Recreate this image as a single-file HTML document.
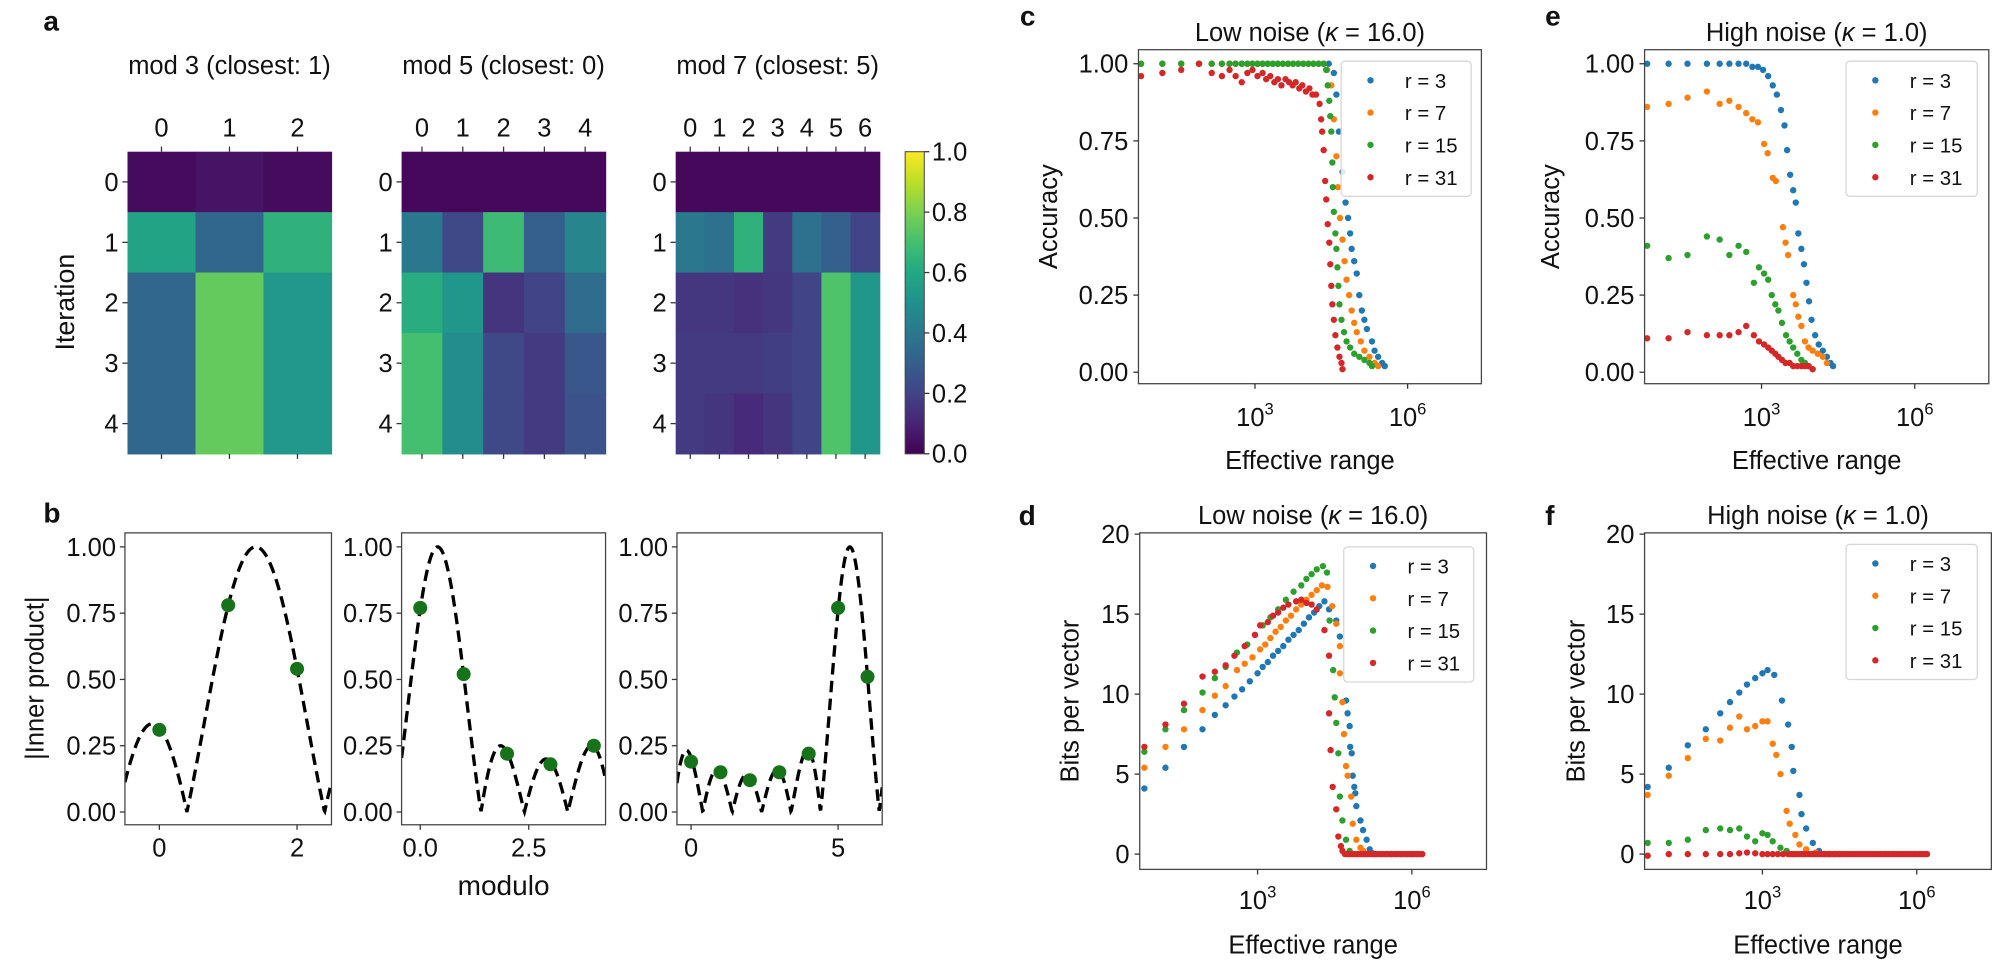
<!DOCTYPE html>
<html><head><meta charset="utf-8">
<style>
html,body{margin:0;padding:0;background:#fff;}
svg{display:block;font-family:"Liberation Sans",Arial,sans-serif;}
</style></head>
<body>
<svg id="fig" width="1999" height="965" viewBox="0 0 1568 757" preserveAspectRatio="none" xmlns="http://www.w3.org/2000/svg">
<defs>
<linearGradient id="viridisGrad" x1="0" y1="1" x2="0" y2="0">
<stop offset="0" stop-color="#440154"/><stop offset="0.1" stop-color="#482475"/><stop offset="0.2" stop-color="#414487"/><stop offset="0.3" stop-color="#355f8d"/><stop offset="0.4" stop-color="#2a788e"/><stop offset="0.5" stop-color="#21918c"/><stop offset="0.6" stop-color="#22a884"/><stop offset="0.7" stop-color="#44bf70"/><stop offset="0.8" stop-color="#7ad151"/><stop offset="0.9" stop-color="#bddf26"/><stop offset="1" stop-color="#fde725"/>
</linearGradient>
</defs>
</svg>
<script>
// ---------- heatmap data ----------
const mod3Vals = [[0.03,0.05,0.03],[0.58,0.33,0.64],[0.33,0.76,0.53],[0.33,0.76,0.53],[0.33,0.76,0.53]];
const mod5Vals = [[0.02,0.02,0.02,0.02,0.02],[0.40,0.22,0.68,0.30,0.45],[0.62,0.52,0.15,0.20,0.35],[0.70,0.48,0.22,0.17,0.27],[0.70,0.48,0.22,0.17,0.25]];
const mod7Vals = [[0.02,0.02,0.02,0.02,0.02,0.02,0.02],[0.40,0.37,0.64,0.17,0.37,0.30,0.20],[0.16,0.16,0.14,0.16,0.20,0.72,0.52],[0.17,0.17,0.17,0.18,0.20,0.72,0.52],[0.17,0.15,0.12,0.15,0.20,0.72,0.52]];
const heatTitles = ["mod 3 (closest: 1)","mod 5 (closest: 0)","mod 7 (closest: 5)"];
const cbarTicks = [0,0.2,0.4,0.6,0.8,1.0];
const cbarLabels = ["0.0","0.2","0.4","0.6","0.8","1.0"];
// ---------- panel b data ----------
const bModuli = [3,5,7];
const bPeaks = [1.4,0.4,5.4];
const bDots3 = [0.31,0.78,0.54];
const bDots5 = [0.77,0.52,0.22,0.18,0.25];
const bDots7 = [0.19,0.15,0.12,0.15,0.22,0.77,0.51];
const bTickVals = [0,0.25,0.5,0.75,1.0];
const bTickLabels = ["0.00","0.25","0.50","0.75","1.00"];
// ---------- scatter data: [log10 effective range, value] ----------
const cBlue = [[0.76,1],[1.18,1],[1.55,1],[1.9,1],[2.15,1],[2.35,1],[2.5,1],[2.62,1],[2.74,1],[2.85,1],[2.95,1],[3.05,1],[3.15,1],[3.25,1],[3.35,1],[3.45,1],[3.55,1],[3.65,1],[3.75,1],[3.85,1],[3.95,1],[4.05,1],[4.15,1],[4.25,1],[4.35,1],[4.45,1],[4.55,0.97],[4.6,0.9],[4.65,0.78],[4.72,0.65],[4.78,0.55],[4.83,0.5],[4.87,0.45],[4.9,0.4],[4.95,0.36],[5.0,0.32],[5.05,0.25],[5.1,0.2],[5.15,0.17],[5.2,0.14],[5.3,0.1],[5.35,0.07],[5.42,0.05],[5.5,0.03],[5.55,0.02]];
const cOrange = [[0.76,1],[1.18,1],[1.55,1],[1.9,1],[2.15,1],[2.35,1],[2.5,1],[2.62,1],[2.74,1],[2.85,1],[2.95,1],[3.05,1],[3.15,1],[3.25,1],[3.35,1],[3.45,1],[3.55,1],[3.65,1],[3.75,1],[3.85,1],[3.95,1],[4.05,1],[4.15,1],[4.25,1],[4.35,1],[4.42,0.98],[4.5,0.93],[4.55,0.82],[4.6,0.7],[4.63,0.6],[4.67,0.5],[4.72,0.43],[4.76,0.36],[4.8,0.3],[4.85,0.25],[4.9,0.2],[4.95,0.16],[5.0,0.13],[5.08,0.1],[5.15,0.07],[5.25,0.05],[5.35,0.03],[5.42,0.02]];
const cGreen = [[0.76,1],[1.18,1],[1.55,1],[1.9,1],[2.15,1],[2.35,1],[2.5,1],[2.62,1],[2.74,1],[2.85,1],[2.95,1],[3.05,1],[3.15,1],[3.25,1],[3.35,1],[3.45,1],[3.55,1],[3.65,1],[3.75,1],[3.85,1],[3.95,1],[4.05,1],[4.15,1],[4.25,1],[4.35,1],[4.4,0.98],[4.43,0.93],[4.46,0.88],[4.48,0.83],[4.5,0.78],[4.52,0.68],[4.53,0.6],[4.55,0.52],[4.58,0.45],[4.6,0.4],[4.62,0.34],[4.64,0.28],[4.66,0.22],[4.7,0.17],[4.75,0.13],[4.8,0.1],[4.87,0.08],[4.95,0.06],[5.05,0.05],[5.15,0.04],[5.25,0.03],[5.3,0.02]];
const cRed = [[0.76,0.96],[1.18,0.97],[1.55,0.98],[1.9,1.0],[2.15,0.97],[2.35,0.96],[2.5,0.98],[2.62,0.96],[2.74,0.94],[2.85,0.97],[2.95,0.98],[3.05,0.96],[3.15,0.97],[3.22,0.95],[3.3,0.96],[3.38,0.94],[3.45,0.95],[3.52,0.93],[3.6,0.95],[3.67,0.94],[3.74,0.93],[3.8,0.94],[3.87,0.92],[3.93,0.93],[4.0,0.91],[4.07,0.92],[4.13,0.9],[4.2,0.9],[4.27,0.87],[4.3,0.82],[4.32,0.78],[4.35,0.72],[4.38,0.62],[4.4,0.56],[4.43,0.48],[4.46,0.42],[4.48,0.35],[4.5,0.28],[4.52,0.22],[4.55,0.17],[4.58,0.12],[4.62,0.08],[4.66,0.05],[4.7,0.03],[4.72,0.01]];
const eBlue = [[0.76,1],[1.18,1],[1.55,1],[1.93,1],[2.18,1],[2.37,1],[2.55,1],[2.7,1],[2.82,0.99],[2.93,0.99],[3.03,0.98],[3.13,0.96],[3.22,0.93],[3.3,0.9],[3.38,0.85],[3.45,0.8],[3.5,0.72],[3.56,0.64],[3.62,0.59],[3.67,0.55],[3.72,0.45],[3.78,0.4],[3.83,0.35],[3.88,0.29],[3.93,0.23],[3.98,0.17],[4.05,0.12],[4.12,0.09],[4.2,0.07],[4.28,0.05],[4.35,0.03],[4.4,0.02]];
const eOrange = [[0.76,0.86],[1.18,0.87],[1.55,0.89],[1.93,0.91],[2.18,0.87],[2.37,0.88],[2.55,0.86],[2.7,0.84],[2.82,0.82],[2.93,0.81],[3.05,0.74],[3.12,0.71],[3.22,0.63],[3.28,0.62],[3.42,0.47],[3.47,0.42],[3.52,0.38],[3.62,0.25],[3.67,0.22],[3.72,0.18],[3.78,0.15],[3.85,0.1],[3.92,0.08],[4.0,0.07],[4.1,0.06],[4.2,0.05],[4.28,0.03]];
const eGreen = [[0.76,0.41],[1.18,0.37],[1.55,0.38],[1.93,0.44],[2.18,0.43],[2.37,0.38],[2.55,0.41],[2.7,0.39],[2.85,0.29],[2.95,0.34],[3.05,0.32],[3.13,0.3],[3.2,0.25],[3.27,0.22],[3.33,0.2],[3.4,0.16],[3.48,0.12],[3.55,0.1],[3.62,0.08],[3.7,0.06],[3.78,0.04],[3.85,0.03],[3.92,0.02],[4.0,0.01]];
const eRed = [[0.76,0.11],[1.18,0.11],[1.55,0.13],[1.93,0.12],[2.18,0.12],[2.37,0.12],[2.55,0.13],[2.7,0.15],[2.85,0.12],[2.95,0.1],[3.05,0.09],[3.13,0.08],[3.2,0.07],[3.27,0.06],[3.33,0.05],[3.4,0.04],[3.47,0.03],[3.55,0.03],[3.62,0.02],[3.7,0.02],[3.78,0.02],[3.85,0.02],[3.92,0.02],[4.0,0.01]];
const dBlue = [[0.8,4.1],[1.21,5.4],[1.57,6.7],[1.93,7.8],[2.17,8.7],[2.38,9.3],[2.55,9.85],[2.7,10.3],[2.85,10.8],[3.0,11.3],[3.1,11.7],[3.2,12.0],[3.3,12.4],[3.4,12.7],[3.5,13.0],[3.6,13.4],[3.7,13.7],[3.8,14.0],[3.9,14.4],[4.0,14.8],[4.1,15.1],[4.2,15.5],[4.3,15.8],[4.39,15.3],[4.53,14.6],[4.6,13.6],[4.72,9.6],[4.75,8.8],[4.79,8.0],[4.8,6.7],[4.83,6.3],[4.85,4.9],[4.88,4.2],[4.9,3.8],[4.92,3.0],[5.0,2.1],[5.05,1.5],[5.12,0.9],[5.18,0.3],[5.24,0.05],[5.3,0],[5.4,0],[5.5,0],[5.6,0],[5.7,0],[5.8,0],[5.9,0],[6.0,0],[6.1,0],[6.2,0]];
const dOrange = [[0.8,5.4],[1.21,6.7],[1.57,7.8],[1.93,9.0],[2.17,9.9],[2.38,10.5],[2.6,11.5],[2.75,11.9],[2.9,12.3],[3.05,12.8],[3.15,13.1],[3.25,13.5],[3.35,13.9],[3.45,14.2],[3.55,14.6],[3.65,14.9],[3.75,15.3],[3.85,15.6],[3.95,15.9],[4.05,16.2],[4.15,16.5],[4.25,16.8],[4.36,16.7],[4.45,15.5],[4.53,14.4],[4.6,13.0],[4.6,11.3],[4.65,9.5],[4.68,7.5],[4.72,5.5],[4.75,4.9],[4.82,3.6],[4.85,1.9],[4.92,0.9],[5.0,0.4],[5.05,0.2],[5.1,0]];
const dGreen = [[0.8,6.4],[1.21,7.8],[1.57,9.0],[1.93,10.1],[2.17,11.0],[2.38,11.7],[2.6,12.6],[2.8,13.1],[2.95,13.7],[3.1,14.3],[3.25,14.8],[3.4,15.3],[3.55,15.9],[3.7,16.4],[3.85,16.8],[3.95,17.2],[4.05,17.5],[4.15,17.8],[4.27,18.0],[4.35,17.6],[4.4,14.6],[4.47,11.5],[4.5,9.8],[4.53,8.2],[4.57,6.3],[4.6,3.6],[4.65,2.1],[4.72,0.9],[4.79,0.2],[4.85,0]];
const dRed = [[0.8,6.7],[1.21,8.1],[1.57,9.4],[1.93,11.1],[2.17,11.4],[2.38,11.8],[2.55,12.4],[2.75,13.0],[2.95,13.7],[3.05,14.3],[3.2,14.5],[3.3,14.9],[3.4,15.1],[3.5,15.4],[3.6,15.6],[3.75,15.8],[3.85,15.9],[3.95,15.7],[4.05,15.6],[4.15,15.3],[4.3,14.0],[4.39,12.4],[4.39,8.8],[4.42,6.5],[4.46,4.2],[4.53,2.8],[4.57,1.1],[4.62,0.5],[4.65,0.2],[4.7,0],[4.75,0],[4.8,0],[4.85,0],[4.9,0],[4.95,0],[5.0,0],[5.05,0],[5.1,0],[5.15,0],[5.2,0],[5.25,0],[5.3,0],[5.35,0],[5.4,0],[5.45,0],[5.5,0],[5.55,0],[5.6,0],[5.65,0],[5.7,0],[5.75,0],[5.8,0],[5.85,0],[5.9,0],[5.95,0],[6.0,0],[6.05,0],[6.1,0],[6.15,0],[6.2,0]];
const fBlue = [[0.77,4.2],[1.18,5.4],[1.55,6.8],[1.9,7.8],[2.18,8.8],[2.37,9.5],[2.55,10.1],[2.7,10.6],[2.86,11.0],[3.0,11.3],[3.1,11.5],[3.23,11.2],[3.38,9.6],[3.5,8.1],[3.57,6.7],[3.6,5.2],[3.72,3.7],[3.76,2.5],[3.85,1.6],[3.98,0.7],[4.1,0.2],[4.2,0],[4.3,0],[4.4,0],[4.5,0]];
const fOrange = [[0.77,3.7],[1.18,4.9],[1.55,6.0],[1.9,7.2],[2.18,7.1],[2.37,7.9],[2.55,8.6],[2.7,7.8],[2.86,8.0],[3.0,8.3],[3.1,8.3],[3.2,6.9],[3.27,6.2],[3.35,5.0],[3.47,2.7],[3.53,1.9],[3.64,1.2],[3.72,0.6],[3.85,0.3],[4.03,0.1],[4.15,0],[4.3,0]];
const fGreen = [[0.77,0.7],[1.18,0.7],[1.55,0.9],[1.9,1.5],[2.18,1.6],[2.37,1.5],[2.55,1.6],[2.7,1.1],[2.86,0.8],[3.0,1.3],[3.1,1.2],[3.2,0.8],[3.35,0.4],[3.47,0.2],[3.6,0],[3.8,0]];
const fRed = [[0.77,-0.1],[1.18,0],[1.55,0],[1.9,0],[2.18,0],[2.37,0],[2.55,0.05],[2.7,0.1],[2.86,0.05],[3.0,0],[3.1,0],[3.2,0],[3.3,0],[3.4,0],[3.5,0],[3.55,0],[3.6,0],[3.65,0],[3.7,0],[3.75,0],[3.8,0],[3.85,0],[3.9,0],[3.95,0],[4.0,0],[4.05,0],[4.1,0],[4.15,0],[4.2,0],[4.25,0],[4.3,0],[4.35,0],[4.4,0],[4.45,0],[4.5,0],[4.55,0],[4.6,0],[4.65,0],[4.7,0],[4.75,0],[4.8,0],[4.85,0],[4.9,0],[4.95,0],[5.0,0],[5.05,0],[5.1,0],[5.15,0],[5.2,0],[5.25,0],[5.3,0],[5.35,0],[5.4,0],[5.45,0],[5.5,0],[5.55,0],[5.6,0],[5.65,0],[5.7,0],[5.75,0],[5.8,0],[5.85,0],[5.9,0],[5.95,0],[6.0,0],[6.05,0],[6.1,0],[6.15,0],[6.2,0]];
const seriesLabels = ["r = 3","r = 7","r = 15","r = 31"];
const accTicks = [0,0.25,0.5,0.75,1.0];
const accTickLabels = ["0.00","0.25","0.50","0.75","1.00"];
const bitTicks = [0,5,10,15,20];
const bitTickLabels = ["0","5","10","15","20"];
const xDecades = [3,6];

const NS = "http://www.w3.org/2000/svg";
const svg = document.getElementById("fig");
const COLORS = ["#1f77b4","#ff7f0e","#2ca02c","#d62728"];
const VIR = ["#440154","#482475","#414487","#355f8d","#2a788e","#21918c","#22a884","#44bf70","#7ad151","#bddf26","#fde725"];
function hex(c){return [1,3,5].map(i=>parseInt(c.substr(i,2),16));}
function viridis(v){v=Math.max(0,Math.min(1,v));const p=v*10;const i=Math.min(9,Math.floor(p));const t=p-i;const a=hex(VIR[i]),b=hex(VIR[i+1]);return "rgb("+a.map((x,k)=>Math.round(x+(b[k]-x)*t)).join(",")+")";}
function el(tag,parent,attrs){const e=document.createElementNS(NS,tag);for(const k in attrs)e.setAttribute(k,attrs[k]);(parent||svg).appendChild(e);return e;}
function group(name){const g=el("g",svg,{});


return g;}
function text(parent,x,y,s,size,anchor,name,extra){const t=el("text",parent,Object.assign({x:x,y:y,"font-size":size,"text-anchor":anchor||"middle",fill:"#111"},extra||{}));t.textContent=s;


return t;}
function line(parent,x1,y1,x2,y2,name,w,col){const l=el("line",parent,{x1:x1,y1:y1,x2:x2,y2:y2,stroke:col||"#333","stroke-width":w||1});


return l;}
function box(parent,x0,y0,x1,y1,name){const r=el("rect",parent,{x:x0,y:y0,width:x1-x0,height:y1-y0,fill:"none",stroke:"#444","stroke-width":1});


return r;}

// ---- panel letters ----
[["a",34,24],["b",34,410],["c",800,20],["e",1212,20],["d",799,412],["f",1212,412]].forEach(p=>{
  text(svg,p[1],p[2],p[0],22,"start","panel-label-"+p[0],{"font-weight":"bold"});
});

// ---- panel a: heatmaps ----
const heatData=[mod3Vals,mod5Vals,mod7Vals];
const heatX=[[100,260],[315,475],[530,690]];
const HY0=119,HY1=356;
heatData.forEach((vals,h)=>{
  const g=group("heatmap-mod"+bModuli[h]);
  const [x0,x1]=heatX[h];const nc=vals[0].length,nr=vals.length;
  const cw=(x1-x0)/nc,rh=(HY1-HY0)/nr;
  vals.forEach((row,i)=>row.forEach((v,j)=>{
    const r=el("rect",g,{x:x0+j*cw,y:HY0+i*rh,width:cw+0.5,height:rh+0.5,fill:viridis(v)});
    
    
  }));
  for(let j=0;j<nc;j++){const cx=x0+(j+0.5)*cw;
    line(g,cx,HY0,cx,HY0-4,"x-tick-top");line(g,cx,HY1,cx,HY1+4,"x-tick-bottom");
    text(g,cx,107,String(j),20,"middle","x-tick-label");}
  for(let i=0;i<nr;i++){const cy=HY0+(i+0.5)*rh;line(g,x0,cy,x0-4,cy,"y-tick");
    text(g,x0-7,cy+7,String(i),20,"end","y-tick-label");}
  text(g,(x0+x1)/2,58,heatTitles[h],20,"middle","heatmap-title");
});
text(svg,0,0,"Iteration",21,"middle","y-axis-title-iteration",{transform:"translate(58,237) rotate(-90)"});
// colorbar
{const g=group("colorbar");
 const r=el("rect",g,{x:710,y:HY0,width:15,height:HY1-HY0,fill:"url(#viridisGrad)",stroke:"#444","stroke-width":0.8});
 
 
 cbarTicks.forEach((v,i)=>{const y=HY1-v*(HY1-HY0);line(g,725,y,729,y,"colorbar-tick");text(g,731,y+7,cbarLabels[i],20,"start","colorbar-tick-label");});
}

// ---- panel b ----
const bDots=[bDots3,bDots5,bDots7];
const bXl=[[-0.5,2.5],[-0.43,4.27],[-0.48,6.5]];
const bX=[[98,260],[315,475],[531,692]];
const BY0=418,BY1=647,BV1=429,BV0=637;
const bXTicks=[[0,2],[0,2.5],[0,5]];
const bXTickLabels=[["0","2"],["0.0","2.5"],["0","5"]];
bDots.forEach((dots,k)=>{
  const g=group("inner-product-mod"+bModuli[k]);
  const [x0,x1]=bX[k],[l0,l1]=bXl[k];
  const sx=v=>x0+(v-l0)/(l1-l0)*(x1-x0), sy=v=>BV0-v*(BV0-BV1);
  const m=bModuli[k],pk=bPeaks[k];
  let d="";
  for(let i=0;i<=400;i++){const x=l0+(l1-l0)*i/400;const dd=x-pk;
    const den=m*Math.sin(Math.PI*dd/m);const f=Math.abs(den)<1e-9?1:Math.abs(Math.sin(Math.PI*dd)/den);
    d+=(i?"L":"M")+sx(x).toFixed(2)+","+sy(f).toFixed(2);}
  const cp=el("clipPath",g,{id:"bclip"+k});el("rect",cp,{x:x0,y:BY0,width:x1-x0,height:BY1-BY0});
  const p=el("path",g,{d:d,fill:"none",stroke:"#000","stroke-width":2.6,"stroke-dasharray":"9,5","clip-path":"url(#bclip"+k+")"});
  
  
  dots.forEach((v,j)=>{const c=el("circle",g,{cx:sx(j),cy:sy(v),r:5.5,fill:"#17731a"});
    
    });
  box(g,x0,BY0,x1,BY1,"axes-frame");
  bTickVals.forEach((v,i)=>{const y=sy(v);line(g,x0,y,x0-4,y,"y-tick");text(g,x0-7,y+7,bTickLabels[i],20,"end","y-tick-label");});
  bXTicks[k].forEach((v,i)=>{const x=sx(v);line(g,x,BY1,x,BY1+4,"x-tick");text(g,x,672,bXTickLabels[k][i],20,"middle","x-tick-label");});
});
text(svg,0,0,"|Inner product|",20,"middle","y-axis-title-inner-product",{transform:"translate(34,532) rotate(-90)"});
text(svg,395,702,"modulo",22,"middle","x-axis-title-modulo");

// ---- scatter panels ----
const XL0=0.71,XL1=7.45;
const panels=[
 {name:"accuracy-low-noise",x0:893,x1:1162,y0:39,y1:301,v1:1,p1:50,v0:0,p0:292,series:[cBlue,cOrange,cGreen,cRed],ticks:accTicks,tl:accTickLabels,title:"Low noise (",kap:"16.0",ylab:"Accuracy",ylx:822,xtl:334,xlab:368,ty:32,leg:[1052,48,1154,154]},
 {name:"accuracy-high-noise",x0:1290,x1:1560,y0:39,y1:301,v1:1,p1:50,v0:0,p0:292,series:[eBlue,eOrange,eGreen,eRed],ticks:accTicks,tl:accTickLabels,title:"High noise (",kap:"1.0",ylab:"Accuracy",ylx:1216,xtl:334,xlab:368,ty:32,leg:[1448,48,1551,154]},
 {name:"bits-low-noise",x0:894,x1:1166,y0:418,y1:682,v1:20,p1:419,v0:0,p0:670,series:[dBlue,dOrange,dGreen,dRed],ticks:bitTicks,tl:bitTickLabels,title:"Low noise (",kap:"16.0",ylab:"Bits per vector",ylx:839,xtl:713,xlab:748,ty:411,leg:[1054,429,1156,535]},
 {name:"bits-high-noise",x0:1290,x1:1562,y0:418,y1:682,v1:20,p1:419,v0:0,p0:670,series:[fBlue,fOrange,fGreen,fRed],ticks:bitTicks,tl:bitTickLabels,title:"High noise (",kap:"1.0",ylab:"Bits per vector",ylx:1236,xtl:713,xlab:748,ty:411,leg:[1448,427,1551,533]}
];
panels.forEach(P=>{
  const g=group("scatter-"+P.name);
  const sx=v=>P.x0+(v-XL0)/(XL1-XL0)*(P.x1-P.x0);
  const sy=v=>P.p0+(v-P.v0)/(P.v1-P.v0)*(P.p1-P.p0);
  P.series.forEach((s,k)=>{
    const sg=el("g",g,{});
    
    
    s.forEach(pt=>{const c=el("circle",sg,{cx:sx(pt[0]).toFixed(2),cy:sy(pt[1]).toFixed(2),r:2.5,fill:COLORS[k]});
      
      });
  });
  box(g,P.x0,P.y0,P.x1,P.y1,"axes-frame");
  P.ticks.forEach((v,i)=>{const y=sy(v);line(g,P.x0,y,P.x0-4,y,"y-tick");text(g,P.x0-8,y+7,P.tl[i],20,"end","y-tick-label");});
  xDecades.forEach(dv=>{const x=sx(dv);line(g,x,P.y1,x,P.y1+4,"x-tick");
    const t=text(g,x,P.xtl,"10",20,"middle","x-tick-label");
    const ts=el("tspan",t,{dy:-9,"font-size":13});ts.textContent=String(dv);});
  text(g,(P.x0+P.x1)/2,P.xlab,"Effective range",20,"middle","x-axis-title");
  text(g,0,0,P.ylab,20,"middle","y-axis-title",{transform:"translate("+(P.ylx+7)+","+((P.y0+P.y1)/2)+") rotate(-90)"});
  const tt=text(g,(P.x0+P.x1)/2,P.ty,P.title,20,"middle","panel-title");
  const k1=el("tspan",tt,{"font-style":"italic"});k1.textContent="\u03BA";
  const k2=el("tspan",tt,{});k2.textContent=" = "+P.kap+")";
  // legend
  const L=P.leg;const lg=el("g",g,{});
  
  
  const lr=el("rect",lg,{x:L[0],y:L[1],width:L[2]-L[0],height:L[3]-L[1],rx:3,fill:"#fff","fill-opacity":0.85,stroke:"#d6d6d6","stroke-width":1});
  
  
  const step=(L[3]-L[1]-30)/3;
  seriesLabels.forEach((s,k)=>{const y=L[1]+15+k*step;
    const c=el("circle",lg,{cx:L[0]+23,cy:y,r:2.5,fill:COLORS[k]});
    
    
    text(lg,L[0]+50,y+6,s,16,"start","legend-entry");});
});
</script>
</body></html>
